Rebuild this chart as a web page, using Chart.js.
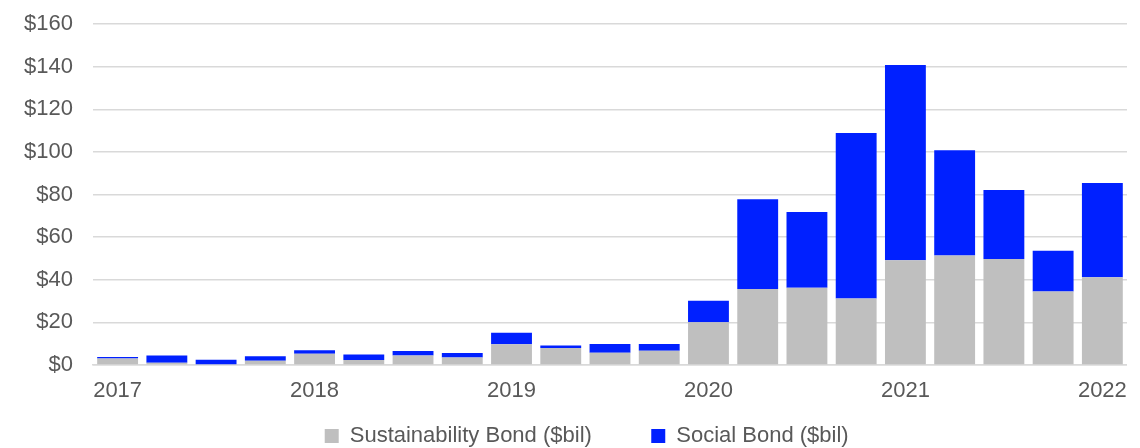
<!DOCTYPE html>
<html>
<head>
<meta charset="utf-8">
<script src="https://cdn.jsdelivr.net/npm/chart.js@4/dist/chart.umd.min.js"></script>
<style>
html,body{margin:0;padding:0;background:#fff;}
#wrap{width:1140px;height:448px;position:relative;}
</style>
</head>
<body>
<div id="wrap"><canvas id="c"></canvas></div>
<script>
const categories = ["2017 Q1","2017 Q2","2017 Q3","2017 Q4","2018 Q1","2018 Q2","2018 Q3","2018 Q4","2019 Q1","2019 Q2","2019 Q3","2019 Q4","2020 Q1","2020 Q2","2020 Q3","2020 Q4","2021 Q1","2021 Q2","2021 Q3","2021 Q4","2022 Q1"];
const tickLabels = ["2017","","","","2018","","","","2019","","","","2020","","","","2021","","","","2022"];
const sustainability = [3.0,1.1,0.3,2.0,5.3,2.4,4.4,3.5,9.7,8.0,5.8,6.7,20.1,35.7,36.3,31.2,49.2,51.4,49.7,34.5,41.2];
const social = [0.8,3.3,2.2,2.1,1.6,2.5,2.2,2.1,5.4,1.2,4.1,3.2,10.1,42.1,35.5,77.6,91.6,49.4,32.4,19.1,44.2];
const yTicks = [0,20,40,60,80,100,120,140,160];

const FONT = '"Liberation Sans", Arial, sans-serif';

new Chart(document.getElementById('c'), {
  type: 'bar',
  data: {
    labels: categories,
    datasets: [
      {label: 'Sustainability Bond ($bil)', data: sustainability, backgroundColor: '#BFBFBF', borderWidth: 0, barPercentage: 0.83, categoryPercentage: 1},
      {label: 'Social Bond ($bil)', data: social, backgroundColor: '#0020FF', borderWidth: 0, barPercentage: 0.83, categoryPercentage: 1}
    ]
  },
  options: {
    responsive: true,
    maintainAspectRatio: false,
    animation: false,
    layout: {padding: {left: 0, right: 7, top: 0, bottom: -9}},
    plugins: {
      tooltip: {enabled: false},
      legend: {
        position: 'bottom',
        labels: {
          font: {family: FONT, size: 22},
          color: '#595959',
          boxWidth: 14, boxHeight: 14, padding: 0,
          generateLabels: (chart) => {
            const items = Chart.defaults.plugins.legend.labels.generateLabels(chart);
            items.forEach((it, i) => { if (i < items.length - 1) it.text = it.text + '\u2003\u2003\u2002\u2009'; });
            items.unshift({text: '\u2002\u2009', fillStyle: 'rgba(0,0,0,0)', strokeStyle: 'rgba(0,0,0,0)', lineWidth: 0, hidden: false, datasetIndex: -1});
            return items;
          }
        }
      }
    },
    scales: {
      x: {
        stacked: true,
        grid: {display: false, drawTicks: false},
        border: {display: true, color: '#D9D9D9', width: 1.5},
        afterFit: (axis) => { axis.height = 60; },
        ticks: {
          autoSkip: false, maxRotation: 0, padding: 13,
          font: {family: FONT, size: 22},
          color: '#595959',
          callback: (v, i) => tickLabels[i]
        }
      },
      y: {
        stacked: true,
        min: 0, max: 160,
        afterBuildTicks: (axis) => { axis.ticks = yTicks.map(v => ({value: v})); },
        afterFit: (axis) => { axis.width = 93; axis.paddingTop = 24; axis.paddingBottom = 0; },
        grid: {color: '#D9D9D9', lineWidth: 1.5, drawTicks: false},
        border: {display: false},
        ticks: {
          padding: 20,
          font: {family: FONT, size: 22},
          color: '#595959',
          callback: (v) => '$' + v
        }
      }
    }
  }
});
</script>
</body>
</html>
